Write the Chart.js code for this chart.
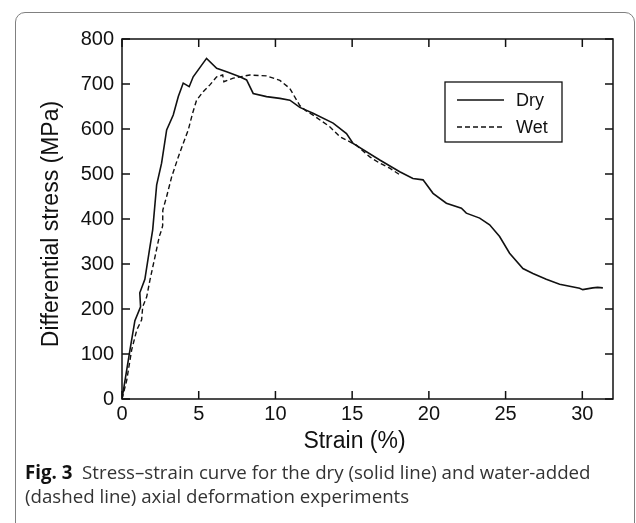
<!DOCTYPE html>
<html>
<head>
<meta charset="utf-8">
<script src="https://cdn.jsdelivr.net/npm/chart.js@4.4.0/dist/chart.umd.min.js"></script>
<style>
  html, body { margin: 0; padding: 0; background: #fff; }
  body { width: 636px; height: 523px; overflow: hidden; position: relative; }
  .card { position: absolute; left: 15px; top: 12px; width: 620px; height: 600px; border: 1.3px solid #808080; border-radius: 10px; box-sizing: border-box; }
  .plot { position: absolute; left: 0; top: 0; width: 636px; height: 460px; }
  .caption { position: absolute; left: 25px; top: 460px; font-family: 'Open Sans'; font-size: 18.7px; line-height: 24px; color: #333; white-space: nowrap; }
  .caption b { color: #111; }
</style>
</head>
<body>
<div class="card"></div>
<div class="plot"><canvas id="myChart"></canvas></div>
<div class="caption"><b>Fig. 3</b>&nbsp; Stress–strain curve for the dry (solid line) and water-added<br>(dashed line) axial deformation experiments</div>
<script>
// data
const dryStrain = [0, 0.52, 0.84, 1.21, 1.16, 1.49, 1.82, 2.0, 2.26, 2.58, 2.91, 3.34, 3.67, 3.99, 4.38, 4.64, 5.51, 6.17, 6.82, 7.68, 8.12, 8.55, 9.42, 10.29, 10.94, 11.59, 12.45, 13.76, 14.63, 15.06, 16.8, 18.1, 18.96, 19.62, 20.27, 21.14, 22.12, 22.44, 23.31, 23.96, 24.61, 25.26, 26.13, 26.78, 27.65, 28.52, 29.82, 30.03, 30.68, 31.0, 31.34];
const dryStress = [0, 109, 174, 205, 236, 266, 338, 376, 476, 524, 598, 631, 672, 702, 694, 716, 757, 735, 727, 716, 709, 679, 672, 668, 664, 648, 635, 613, 590, 568, 531, 505, 490, 487, 457, 435, 424, 413, 402, 387, 361, 324, 290, 279, 266, 255, 246, 243, 247, 248, 247];

const wetStrain = [0, 0.31, 0.63, 0.96, 1.28, 1.35, 1.61, 1.82, 2.15, 2.43, 2.58, 2.65, 2.66, 2.91, 3.24, 3.67, 3.99, 4.32, 4.6, 4.86, 5.29, 5.73, 6.17, 6.56, 6.64, 7.25, 8.33, 9.42, 10.29, 10.94, 11.59, 12.0, 12.45, 13.54, 14.19, 15.28, 16.15, 16.8, 17.45, 18.21];
const wetStress = [0, 42, 109, 153, 176, 205, 227, 264, 316, 361, 376, 385, 420, 450, 494, 538, 568, 598, 635, 664, 683, 698, 716, 720, 705, 713, 720, 718, 708, 690, 652, 640, 631, 605, 583, 564, 538, 524, 513, 496];

const xTicks = [0, 5, 10, 15, 20, 25, 30];
const yTicks = [0, 100, 200, 300, 400, 500, 600, 700, 800];
const seriesNames = ['Dry', 'Wet'];
const xTitle = 'Strain (%)';
const yTitle = 'Differential stress (MPa)';

const toPoints = (xs, ys) => xs.map((v, i) => ({ x: v, y: ys[i] }));

// box, inward ticks, axis titles and legend, MATLAB style
const framePlugin = {
  id: 'frame',
  afterDraw(chart) {
    const { ctx, chartArea: a, scales: { x, y } } = chart;
    ctx.save();
    ctx.strokeStyle = '#111';
    ctx.lineWidth = 1.5;
    ctx.strokeRect(a.left, a.top, a.right - a.left, a.bottom - a.top);
    ctx.beginPath();
    xTicks.forEach(v => {
      const px = x.getPixelForValue(v);
      ctx.moveTo(px, a.bottom); ctx.lineTo(px, a.bottom - 8);
      ctx.moveTo(px, a.top); ctx.lineTo(px, a.top + 8);
    });
    yTicks.forEach(v => {
      const py = y.getPixelForValue(v);
      ctx.moveTo(a.left, py); ctx.lineTo(a.left + 8, py);
      ctx.moveTo(a.right, py); ctx.lineTo(a.right - 8, py);
    });
    ctx.stroke();

    ctx.fillStyle = '#111';
    ctx.font = '23px "Liberation Sans"';
    ctx.textAlign = 'center';
    ctx.textBaseline = 'middle';
    ctx.fillText(xTitle, (a.left + a.right) / 2 - 13, 442);
    ctx.save();
    ctx.translate(52, (a.top + a.bottom) / 2 + 5);
    ctx.rotate(-Math.PI / 2);
    ctx.fillText(yTitle, 0, 0);
    ctx.restore();

    // legend
    const lx = a.right - 168, ly = a.top + 43;
    ctx.fillStyle = '#fff';
    ctx.fillRect(lx, ly, 117, 60);
    ctx.lineWidth = 1.3;
    ctx.strokeRect(lx, ly, 117, 60);
    ctx.font = '18px "Liberation Sans"';
    ctx.textAlign = 'left';
    chart.data.datasets.forEach((ds, i) => {
      const yy = ly + 18 + i * 27;
      ctx.strokeStyle = ds.borderColor;
      ctx.lineWidth = ds.borderWidth;
      ctx.setLineDash(ds.borderDash || []);
      ctx.beginPath();
      ctx.moveTo(lx + 12, yy); ctx.lineTo(lx + 59, yy);
      ctx.stroke();
      ctx.setLineDash([]);
      ctx.fillStyle = '#111';
      ctx.fillText(ds.label, lx + 71, yy + 1);
    });
    ctx.restore();
  }
};

Chart.defaults.font.family = '"Liberation Sans", Arial, sans-serif';
Chart.defaults.color = '#111';

const ctx = document.getElementById('myChart');
new Chart(ctx, {
  type: 'scatter',
  data: {
    datasets: [{
      label: seriesNames[0],
      data: toPoints(dryStrain, dryStress),
      showLine: true,
      borderColor: '#111',
      borderWidth: 1.6,
      pointRadius: 0,
      tension: 0
    }, {
      label: seriesNames[1],
      data: toPoints(wetStrain, wetStress),
      showLine: true,
      borderColor: '#111',
      borderWidth: 1.4,
      borderDash: [5, 3],
      pointRadius: 0,
      tension: 0
    }]
  },
  plugins: [framePlugin],
  options: {
    responsive: true,
    maintainAspectRatio: false,
    animation: false,
    layout: { padding: { top: 39, right: 23, left: 0, bottom: 0 } },
    plugins: {
      legend: { display: false },
      tooltip: { enabled: false }
    },
    scales: {
      x: {
        type: 'linear',
        min: 0,
        max: 32,
        afterBuildTicks: s => { s.ticks = xTicks.map(v => ({ value: v })); },
        afterFit: s => { s.height = 61; },
        grid: { display: false, drawTicks: false },
        border: { display: false },
        ticks: { font: { size: 20 }, padding: 3, maxRotation: 0, autoSkip: false }
      },
      y: {
        min: 0,
        max: 800,
        afterBuildTicks: s => { s.ticks = yTicks.map(v => ({ value: v })); },
        afterFit: s => { s.width = 122; },
        grid: { display: false, drawTicks: false },
        border: { display: false },
        ticks: { font: { size: 20 }, padding: 8 }
      }
    }
  }
});
</script>
</body>
</html>
